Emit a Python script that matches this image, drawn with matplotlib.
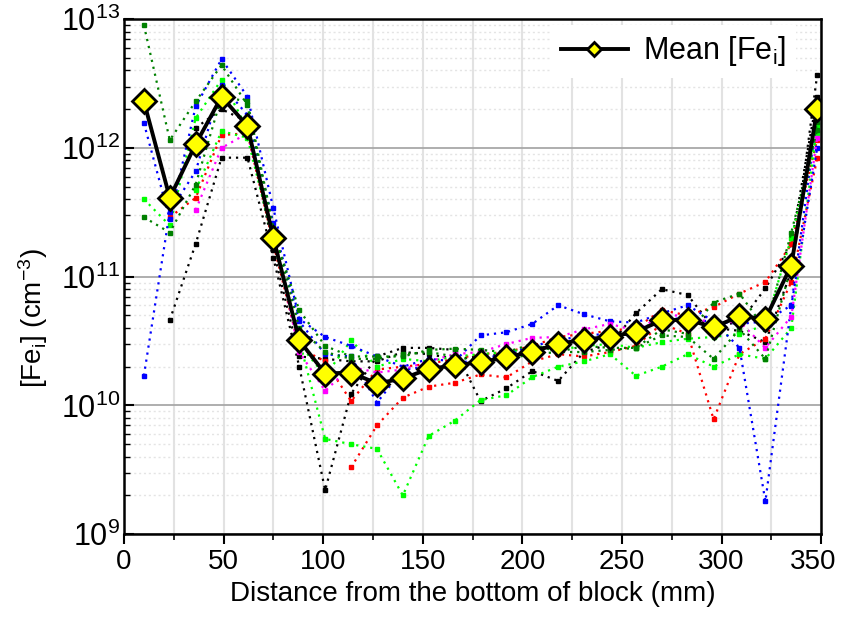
import numpy as np
import matplotlib.pyplot as plt
from matplotlib.ticker import LogLocator, MultipleLocator, NullFormatter, FuncFormatter

plt.rcParams['font.family'] = ['Liberation Sans', 'DejaVu Sans']
plt.rcParams['mathtext.default'] = 'regular'

nan = np.nan

# distance from bottom of block (mm)
dist = [10, 23, 36, 49, 62, 75, 88, 101, 114, 127, 140, 153, 166, 179,
        192, 205, 218, 231, 244, 257, 270, 283, 296, 309, 322, 335, 348]

# individual profiles, in units of 1e10 cm^-3
black_a = [nan, 4.6, 18, 84, 84, 14, 2.0, 0.22, 1.23, 2.4, 2.8, 2.8, 2.7, 1.08,
           1.36, 1.85, 1.55, 2.6, 3.0, 5.2, 8.0, 7.2, 4.0, 3.8, 3.1, 11, 370]
black_b = [nan, nan, 143, 200, 160, 16, 2.4, 2.3, 2.2, 2.2, 2.6, 2.5, 2.3, 2.4,
           2.5, 2.7, 3.0, 3.2, 3.5, 3.9, 4.5, 4.8, 4.2, 4.4, 8.1, 18, 250]
red_a = [nan, 29, 41, 126, 130, 18, 2.8, 2.2, 1.08, 1.9, 2.0, 2.1, 2.3, 2.5,
         2.6, 2.9, 3.4, 3.6, 3.8, 4.0, 5.5, 5.0, 5.8, 7.4, 9.1, 17.8, 116]
red_b = [nan, nan, nan, nan, nan, nan, nan, nan, 0.33, 0.7, 1.15, 1.4, 1.5, 1.74,
         1.65, 2.2, 2.5, 2.4, 2.6, 2.9, 4.3, 3.6, 0.78, 2.5, 3.3, 9.1, 83]
lime_a = [40, 25, 170, 340, 140, 20, 3.0, 1.7, 3.2, 2.0, 2.3, 2.2, 2.4, 2.5,
          2.6, 2.8, 2.7, 2.9, 3.0, 2.8, 3.1, 3.3, 3.4, 3.6, 4.2, 20, 130]
lime_b = [nan, nan, 47, 135, 120, 19, 3.2, 0.55, 0.5, 0.46, 0.2, 0.58, 0.76, 1.1,
          1.2, 1.66, 2.0, 2.2, 2.5, 1.7, 2.0, 2.5, 2.0, 2.5, 2.3, 4.0, 150]
blue_a = [156, 28, 210, 490, 250, 34, 4.7, 3.4, 2.9, 2.4, 2.0, 2.3, 2.2, 3.5,
          3.7, 4.3, 6.0, 5.1, 4.5, 4.4, 5.2, 6.0, 4.5, 4.3, 4.5, 6.0, 180]
blue_b = [1.7, 32, 66, 310, 180, 26, 4.5, 2.5, 2.4, 1.05, 1.9, 2.0, 2.1, 2.3,
          2.5, 2.9, 3.2, 3.5, 3.6, 3.5, 4.9, 4.6, 4.5, 2.8, 0.18, 5.9, 100]
magenta = [nan, nan, 33, 100, 130, 22, 2.6, 1.3, 2.0, 1.8, 1.9, 2.2, 2.5, 2.6,
           3.0, 3.35, 3.4, 3.9, 4.3, 3.8, 5.0, 5.0, 4.3, 4.5, 2.8, 4.9, 120]
dkgreen_a = [900, 115, 230, 440, 215, 22, 5.5, 2.9, 2.4, 2.4, 2.4, 2.7, 2.76, 2.7,
             2.6, 3.0, 2.6, 2.9, 2.8, 2.8, 3.9, 3.6, 6.3, 7.4, 3.9, 22, 138]
dkgreen_b = [29, 22, 52, 250, 230, 24, 4.0, 2.6, 2.3, 2.3, 2.5, 2.6, 2.4, 2.2,
             2.3, 2.5, 2.6, 2.6, 2.7, 2.8, 3.5, 3.4, 2.3, 3.9, 2.3, 12, 160]

profiles = [(black_a, 'black'), (black_b, 'black'), (red_a, 'red'), (red_b, 'red'),
            (lime_a, '#00ff00'), (lime_b, '#00ff00'), (blue_a, 'blue'), (blue_b, 'blue'),
            (magenta, 'magenta'), (dkgreen_a, '#008000'), (dkgreen_b, '#008000')]

# mean [Fe_i], units 1e10 cm^-3
mean_fe = [230, 41, 107, 250, 148, 20, 3.2, 1.77, 1.8, 1.48, 1.62, 1.92, 2.05, 2.17,
           2.36, 2.62, 3.0, 3.25, 3.41, 3.73, 4.58, 4.64, 4.05, 4.93, 4.7, 12.2, 200]

x_max = 350

fig = plt.figure(figsize=(8.41, 6.19), dpi=100)
ax = fig.add_axes([0.1474, 0.137, 0.829, 0.832])

x = np.array(dist)
for vals, c in profiles:
    y = np.array(vals) * 1e10
    ax.plot(x, y, ls=(0, (1, 2.2)), lw=1.6, color=c, marker='s', ms=3.5,
            mec=c, mfc=c, zorder=3)

ax.plot(x, np.array(mean_fe) * 1e10, color='black', lw=2.8, marker='D', ms=12,
        mfc='#ffff00', mec='black', mew=2, zorder=5, label='Mean [Fe$_i$]')

ax.set_yscale('log')
ax.set_xlim(0, x_max)
ax.set_ylim(1e9, 1e13)

ax.xaxis.set_major_locator(MultipleLocator(50))
ax.xaxis.set_minor_locator(MultipleLocator(25))
# last label is drawn separately, nudged left so it stays inside the figure
ax.xaxis.set_major_formatter(FuncFormatter(lambda v, p: '' if v >= x_max else f'{v:.0f}'))
ax.yaxis.set_major_locator(LogLocator(base=10, numticks=10))
ax.yaxis.set_minor_locator(LogLocator(base=10, subs=np.arange(2, 10), numticks=20))
ax.yaxis.set_minor_formatter(NullFormatter())

# grid
ax.grid(True, which='major', axis='y', color='#a8a8a8', lw=1.3, zorder=1)
ax.grid(True, which='minor', axis='y', color='#e4e4e4', lw=1.0, ls=(0, (1.5, 2)), zorder=1)
ax.grid(True, which='both', axis='x', color='#e2e2e2', lw=1.5, zorder=1)

for s in ax.spines.values():
    s.set_linewidth(1.8)
    s.set_zorder(6)

ax.tick_params(axis='x', which='major', direction='out', length=7, width=1.5,
               labelsize=20, pad=4)
ax.tick_params(axis='x', which='minor', direction='out', length=4, width=1.2)
ax.tick_params(axis='y', which='major', direction='in', length=7, width=1.5,
               labelsize=22, pad=3)
ax.tick_params(axis='y', which='minor', direction='in', length=4, width=1.0)

ax.annotate(f'{x_max}', xy=(x_max, 0), xycoords=('data', 'axes fraction'),
            xytext=(-5.5, -11), textcoords='offset points', ha='center', va='top',
            fontsize=20)

ax.set_xlabel('Distance from the bottom of block (mm)', fontsize=20, labelpad=4)
ax.set_ylabel('[Fe$_i$] (cm$^{-3}$)', fontsize=20)
ax.yaxis.set_label_coords(-0.106, 0.42)

leg = ax.legend(loc='upper right', bbox_to_anchor=(0.972, 1.0), fontsize=22,
                frameon=True, fancybox=False, edgecolor='none', framealpha=1,
                markerscale=0.6, handlelength=2.2, borderaxespad=0.2,
                handletextpad=0.5, borderpad=0.3)
leg.set_zorder(7)

fig.savefig('out.png', dpi=100)
